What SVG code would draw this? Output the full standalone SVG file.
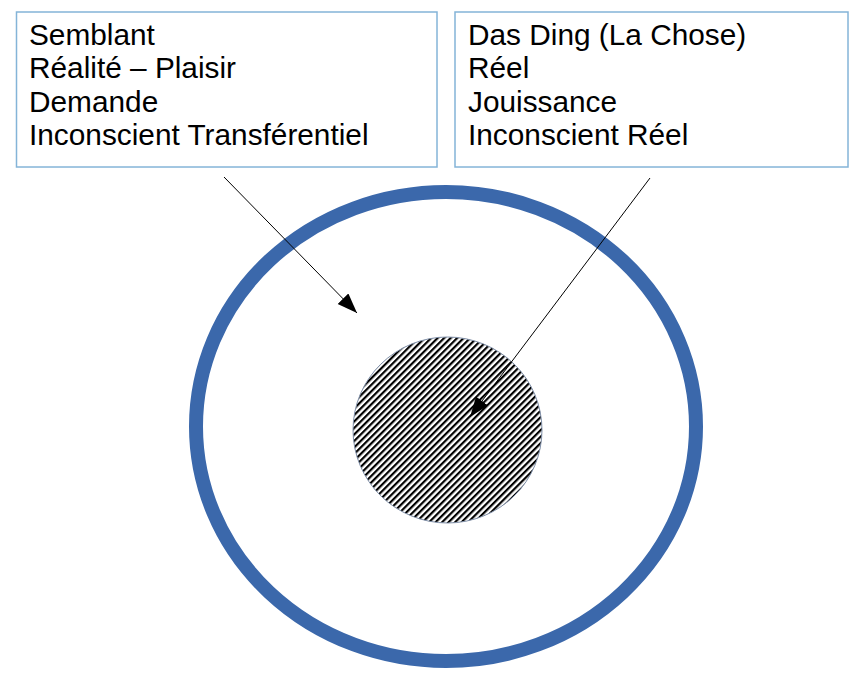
<svg xmlns="http://www.w3.org/2000/svg" width="862" height="686" viewBox="0 0 862 686">
  <style>
    .box { fill: #ffffff; stroke: #84b4d8; stroke-width: 1.5; }
    .lbl { font-family: "Liberation Sans", Arial, sans-serif; font-size: 29.8px; fill: #000000; }
    .conn { stroke: #000000; stroke-width: 1; fill: none; }
  </style>
  <defs>
    <pattern id="hatch" patternUnits="userSpaceOnUse" width="4.6" height="10" patternTransform="rotate(45)">
      <rect x="0" y="0" width="4.6" height="10" fill="#ffffff"/>
      <rect x="0" y="0" width="2.2" height="10" fill="#000000"/>
    </pattern>
    <marker id="arrow" markerUnits="userSpaceOnUse" markerWidth="22" markerHeight="16" refX="20" refY="7.5" orient="auto">
      <path d="M0,0 L20,7.5 L0,15 Z" fill="#000000"/>
    </marker>
  </defs>
  <rect width="862" height="686" fill="#ffffff"/>

  <g id="outer-circle">
    <ellipse cx="446" cy="426.5" rx="250" ry="234.5" fill="none" stroke="#3b68ab" stroke-width="14"/>
  </g>

  <g id="inner-circle">
    <ellipse cx="447.5" cy="430" rx="94.5" ry="93" fill="url(#hatch)" stroke="#7f8fa8" stroke-width="1"/>
  </g>

  <g id="box-left">
    <rect class="box" x="16.5" y="12" width="420.5" height="155"/>
    <text class="lbl" x="29" y="45">Semblant</text>
    <text class="lbl" x="29" y="78.3">Réalité – Plaisir</text>
    <text class="lbl" x="29" y="111.7">Demande</text>
    <text class="lbl" x="29" y="145">Inconscient Transférentiel</text>
  </g>

  <g id="box-right">
    <rect class="box" x="455" y="12" width="393" height="155"/>
    <text class="lbl" x="468" y="45">Das Ding (La Chose)</text>
    <text class="lbl" x="468" y="78.3">Réel</text>
    <text class="lbl" x="468" y="111.7">Jouissance</text>
    <text class="lbl" x="468" y="145">Inconscient Réel</text>
  </g>

  <g id="connectors">
    <line class="conn" x1="224" y1="177" x2="357" y2="313" marker-end="url(#arrow)"/>
    <line class="conn" x1="650" y1="178" x2="470" y2="417" marker-end="url(#arrow)"/>
  </g>
</svg>
